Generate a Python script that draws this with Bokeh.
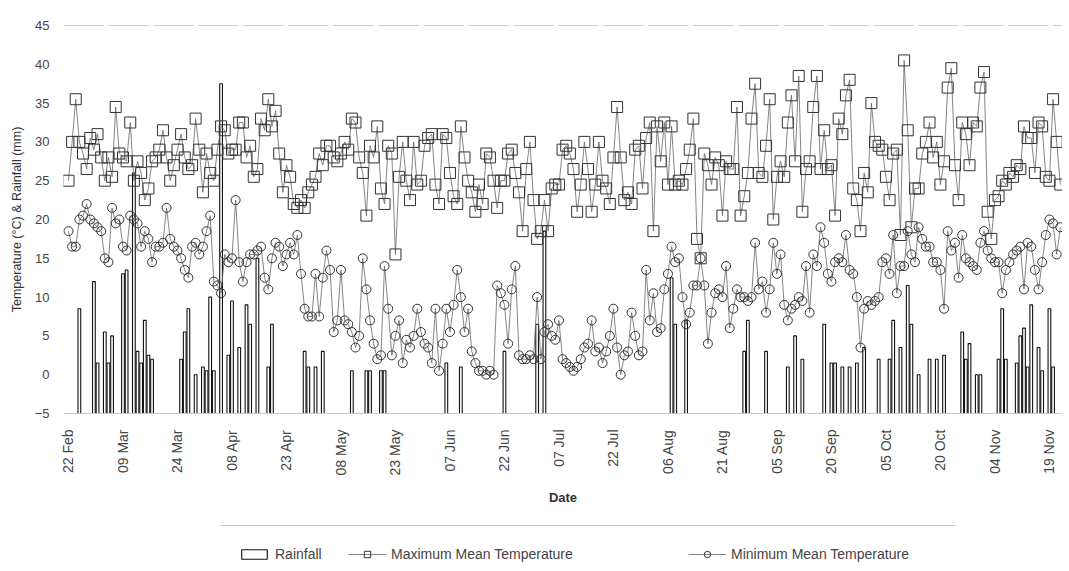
import numpy as np
import pandas as pd
from bokeh.plotting import figure
from bokeh.layouts import column
from bokeh.models import (ColumnDataSource, Range1d, FixedTicker, DatetimeTickFormatter,
                          Legend, LegendItem, Span, BoxAnnotation)
from bokeh.embed import file_html
from bokeh.resources import INLINE

# ---------------- data ----------------
start_date = "2019-02-22"
tick_labels = ["22 Feb", "09 Mar", "24 Mar", "08 Apr", "23 Apr", "08 May", "23 May",
               "07 Jun", "22 Jun", "07 Jul", "22 Jul", "06 Aug", "21 Aug", "05 Sep",
               "20 Sep", "05 Oct", "20 Oct", "04 Nov", "19 Nov"]
y_ticks = [-5, 0, 5, 10, 15, 20, 25, 30, 35, 40, 45]
series_names = ["Rainfall", "Maximum Mean Temperature", "Minimum Mean Temperature"]

max_temp = [
    25, 30, 35.5, 30, 28.5, 26.5, 30.5, 29, 31, 28,
    25, 28, 25.5, 34.5, 28.5, 28, 27.5, 32.5, 25, 27.5,
    26, 22.5, 24, 27.5, 28, 29, 31.5, 28, 25, 27,
    29, 31, 28, 26.5, 27, 33, 29, 23.5, 28.5, 26,
    25, 29, 32, 31.5, 28.5, 29, 29, 32.5, 32.5, 28,
    29.5, 25.5, 26.5, 33, 31.5, 35.5, 32, 34, 28.5, 23.5,
    27, 25.5, 22, 21.5, 22.5, 21.5, 23.5, 24.5, 25.5, 28.5,
    27, 29.5, 29.5, 28, 27.5, 28.5, 30, 29, 33, 32.5,
    28, 26, 20.5, 29.5, 28, 32, 24, 22, 29.5, 28.5,
    15.5, 25.5, 30, 25, 22.5, 30, 24.5, 25, 29.5, 30.5,
    31, 24.5, 22, 31, 30.5, 26, 23, 22, 32, 28,
    25, 23.5, 21, 24.5, 22, 28.5, 28, 25, 21.5, 25,
    25, 28.5, 29, 26, 23.5, 18.5, 26.5, 30, 22.5, 17.5,
    18.5, 22.5, 18.5, 24, 24.5, 24.5, 29, 29.5, 28.5, 26.5,
    21, 24.5, 30, 26.5, 21, 24.5, 30, 25, 24, 22,
    28, 34.5, 28, 22.5, 23.5, 22, 29, 29.5, 24, 30.5,
    32.5, 18.5, 32, 27.5, 32.5, 24.5, 32, 24.5, 25, 24.5,
    26.5, 29, 33, 17.5, 15, 28.5, 27, 24.5, 28, 27,
    20.5, 27.5, 26.5, 26.5, 34.5, 20.5, 23, 26, 33, 37.5,
    26, 25.5, 29.5, 35.5, 20, 25.5, 27.5, 25.5, 32.5, 36,
    27.5, 38.5, 21, 26.5, 27.5, 34.5, 38.5, 26.5, 31.5, 26.5,
    27, 20.5, 33, 31, 36, 38, 24, 22.5, 18.5, 26,
    23.5, 35, 30, 29.5, 29, 25.5, 22.5, 28.5, 29, 18,
    40.5, 31.5, 19, 24, 24, 28.5, 30, 32.5, 28, 30,
    24.5, 27.5, 37, 39.5, 27, 22.5, 32.5, 31, 27, 32.5,
    32, 37, 39, 21, 17.5, 22.5, 23, 25, 24.5, 26,
    25.5, 27, 26.5, 32, 30.5, 30.5, 26, 32.5, 32, 25.5,
    25, 35.5, 30, 24.5,
]

min_temp = [
    18.5, 16.5, 16.5, 20, 20.5, 22, 20, 19.5, 19, 18.5,
    15, 14.5, 21.5, 19.5, 20, 16.5, 16, 20.5, 20, 19.5,
    16.5, 18.5, 17.5, 14.5, 16.5, 16.5, 17, 21.5, 17.5, 16.5,
    16, 15, 13.5, 12.5, 16.5, 17, 15.5, 16.5, 18.5, 20.5,
    12, 11.5, 10.5, 15.5, 14.5, 15, 22.5, 14.5, 12, 14.5,
    15.5, 15.5, 16, 16.5, 12.5, 11, 15, 17, 16.5, 14,
    15.5, 17, 15.5, 18, 13, 8.5, 7.5, 7.5, 13, 7.5,
    12.5, 16, 13.5, 5.5, 7, 13.5, 7, 6.5, 5.5, 3.5,
    5, 15, 11, 7, 4, 2, 2.5, 14, 8.5, 2.5,
    5, 7, 1.5, 4.5, 3.5, 5, 8.5, 5.5, 4, 3.5,
    1.5, 8.5, 0.5, 4, 8.5, 5.5, 9, 13.5, 10, 5.5,
    8.5, 3, 1.5, 0.5, 0.5, 0, 0.5, 0, 11.5, 10.5,
    9, 4, 11, 14, 2.5, 2, 2, 2.5, 2, 10,
    2, 5.5, 6.5, 5, 4.5, 7, 2, 1.5, 1, 0.5,
    1, 2, 3.5, 4, 7, 3, 3.5, 1.5, 3, 5,
    8.5, 3.5, 0, 2.5, 3, 8, 5, 2.5, 3, 13.5,
    7, 10.5, 5.5, 6, 11, 13, 16.5, 14.5, 15, 10,
    6.5, 8, 11.5, 11.5, 15, 11.5, 4, 8, 10.5, 11,
    10, 14, 6, 8.5, 11, 10, 10, 9.5, 10, 17,
    11, 12, 8, 11, 17, 13, 15.5, 9, 7, 8.5,
    9, 10, 9.5, 14, 8, 15.5, 14, 19, 17, 13,
    12, 14.5, 15, 14.5, 18, 13.5, 13, 10, 3.5, 8.5,
    9.5, 9, 9.5, 10, 14.5, 15, 13, 18, 10.5, 14,
    14, 18.5, 15.5, 14.5, 19, 17.5, 16.5, 16.5, 14.5, 14.5,
    13.5, 8.5, 18.5, 16, 17, 12.5, 18, 15, 14.5, 14,
    13.5, 17, 18.5, 16, 15, 14.5, 14.5, 10.5, 13.5, 14.5,
    15.5, 16, 16.5, 11, 17, 16.5, 13.5, 11, 14.5, 18,
    20, 19.5, 15.5, 19,
]

# daily rainfall (mm); columns rise from the axis floor at -5
rainfall = [
    0, 0, 0, 13.5, 0, 0, 0, 17, 6.5, 0,
    10.5, 6.5, 10, 0, 0, 18, 18.5, 0, 31, 8,
    6.5, 12, 7.5, 7, 0, 0, 0, 0, 0, 0,
    0, 7, 10.5, 13.5, 0, 5, 0, 6, 5.5, 15,
    5.5, 0, 42.5, 0, 7.5, 14.5, 0, 8.5, 0, 14,
    11.5, 0, 20, 0, 0, 6, 11.5, 0, 0, 0,
    0, 0, 0, 0, 0, 8, 6, 0, 6, 0,
    8, 0, 0, 0, 0, 0, 0, 0, 5.5, 0,
    0, 0, 5.5, 5.5, 0, 0, 5.5, 5.5, 0, 0,
    0, 0, 0, 0, 0, 0, 0, 0, 0, 0,
    0, 0, 0, 0, 6.5, 0, 0, 0, 6, 0,
    0, 0, 0, 0, 0, 0, 0, 0, 0, 0,
    8, 0, 0, 0, 0, 0, 0, 0, 0, 11.5,
    0, 23.5, 0, 0, 0, 0, 0, 0, 0, 0,
    0, 0, 0, 0, 0, 0, 0, 0, 0, 0,
    0, 0, 0, 0, 0, 0, 0, 0, 0, 0,
    0, 0, 0, 0, 0, 0, 17.5, 11.5, 0, 0,
    12, 0, 0, 0, 0, 0, 0, 0, 0, 0,
    0, 0, 0, 0, 0, 0, 8, 12, 0, 0,
    0, 0, 8, 0, 0, 0, 0, 0, 6, 0,
    10, 0, 7, 0, 0, 0, 0, 0, 11.5, 0,
    6.5, 6.5, 0, 6, 0, 6, 0, 6.5, 0, 8.5,
    0, 0, 0, 7, 0, 0, 7, 12, 0, 8.5,
    0, 16.5, 11.5, 0, 5, 0, 0, 7, 0, 7,
    0, 7.5, 0, 0, 0, 0, 10.5, 7, 9, 0,
    5, 5, 0, 0, 0, 0, 7, 13.5, 7, 0,
    0, 6.5, 10, 11, 6, 14, 0, 8.5, 5.5, 0,
    13.5, 6, 0, 0,
]
axis_floor = -5

# ---------------- styles ----------------
FONT = "Liberation Sans"
BAR = dict(fill_color="white", line_color="#111111", line_width=1.1)
LINE = dict(line_color="#666666", line_width=0.8)
SQ = dict(marker="square", size=11, fill_alpha=0, line_color="#333333", line_width=1)
CI = dict(marker="circle", size=9, fill_alpha=0, line_color="#333333", line_width=1)

# ---------------- main chart ----------------
n = len(max_temp)
dates = pd.date_range(start_date, periods=n, freq="D")
src = ColumnDataSource(dict(date=dates, tmax=max_temp, tmin=min_temp[:n]))

rain_mask = [r > 0 for r in rainfall[:n]]
rain_src = ColumnDataSource(dict(
    date=[d for d, m in zip(dates, rain_mask) if m],
    top=[axis_floor + r for r, m in zip(rainfall[:n], rain_mask) if m],
))

day = pd.Timedelta(days=1)
x_start = (dates[0] - 1.37 * day).to_pydatetime()
x_end = (dates[0] + 273.6 * day).to_pydatetime()

p = figure(width=1062, height=508, x_axis_type="datetime",
           x_range=Range1d(x_start, x_end), y_range=Range1d(-5, 45),
           output_backend="svg", toolbar_location=None,
           min_border_left=63, min_border_right=0, min_border_top=25, min_border_bottom=95)

p.outline_line_color = None
p.xgrid.grid_line_color = None
p.ygrid.grid_line_color = None

# y axis
p.yaxis.ticker = FixedTicker(ticks=y_ticks)
p.yaxis.axis_line_color = None
p.yaxis.major_tick_line_color = None
p.yaxis.minor_tick_line_color = None
p.yaxis.major_label_standoff = 8
p.yaxis.major_label_text_font = FONT
p.yaxis.major_label_text_font_size = "13px"
p.yaxis.major_label_text_color = "#444444"
p.yaxis.axis_label = "Temperature (\u00b0C) & Rainfall (mm)"
p.yaxis.axis_label_text_font = FONT
p.yaxis.axis_label_text_font_size = "12.5px"
p.yaxis.axis_label_text_font_style = "normal"
p.yaxis.axis_label_text_color = "#333333"
p.yaxis.axis_label_standoff = 8

# x axis
tick_dates = pd.to_datetime([f"{t} 2019" for t in tick_labels], format="%d %b %Y")
p.xaxis.ticker = FixedTicker(ticks=[t.timestamp() * 1000 for t in tick_dates])
p.xaxis.formatter = DatetimeTickFormatter(days="%d %b", months="%d %b", years="%d %b",
                                          hours="%d %b", hourmin="%d %b")
p.xaxis.major_label_orientation = np.pi / 2
p.xaxis.major_label_standoff = 10
p.xaxis.major_label_text_font = FONT
p.xaxis.major_label_text_font_size = "14px"
p.xaxis.major_label_text_color = "#444444"
p.xaxis.axis_line_color = "#c8c8c8"
p.xaxis.major_tick_line_color = None
p.xaxis.minor_tick_line_color = None
p.xaxis.axis_label = "Date"
p.xaxis.axis_label_text_font = FONT
p.xaxis.axis_label_text_font_size = "13px"
p.xaxis.axis_label_text_font_style = "bold"
p.xaxis.axis_label_text_color = "#333333"
p.xaxis.axis_label_standoff = 12

# top border line at 45
p.add_layout(Span(location=45, dimension="width", line_color="#9a9a9a",
                  line_width=1, line_dash="40 5"))

p.vbar(x="date", top="top", bottom=axis_floor, width=0.75 * 86400000,
       source=rain_src, **BAR)
p.line("date", "tmax", source=src, **LINE)
p.line("date", "tmin", source=src, **LINE)
p.scatter("date", "tmax", source=src, **SQ)
p.scatter("date", "tmin", source=src, **CI)

# ---------------- legend strip ----------------
lg = figure(width=1062, height=55, x_range=Range1d(0, 1), y_range=Range1d(0, 1),
            output_backend="svg", toolbar_location=None,
            x_axis_location=None, y_axis_location=None,
            min_border_left=63, min_border_right=0, min_border_top=0, min_border_bottom=0)
lg.outline_line_color = None
lg.xgrid.grid_line_color = None
lg.ygrid.grid_line_color = None

# faint top rule of the legend box
lg.add_layout(BoxAnnotation(left=0.157, right=0.893, top=0.70, bottom=0.682,
                            fill_color="#c4c4c4", fill_alpha=1, line_color=None))

# legend proxies: one not-a-number row so the legend draws their swatches
proxy = ColumnDataSource(dict(x=[np.nan], y=[np.nan], top=[np.nan]))
r_bar = lg.vbar(x="x", top="top", bottom=0, width=0.1, source=proxy, **BAR)
r_lmax = lg.line("x", "y", source=proxy, **LINE)
r_smax = lg.scatter("x", "y", source=proxy, **SQ)
r_lmin = lg.line("x", "y", source=proxy, **LINE)
r_smin = lg.scatter("x", "y", source=proxy, **CI)


def add_legend(label, renderers, x, gw, gh):
    leg = Legend(items=[LegendItem(label=label, renderers=renderers)],
                 location=(x, 1), orientation="horizontal",
                 border_line_color=None, background_fill_alpha=0,
                 label_text_font=FONT, label_text_font_size="14px",
                 label_text_color="#444444", glyph_width=gw, glyph_height=gh,
                 label_standoff=5, padding=2, margin=0, spacing=0)
    lg.add_layout(leg, "center")


add_legend(series_names[0], [r_bar], 175, 32, 12)
add_legend(series_names[1], [r_lmax, r_smax], 285, 38, 16)
add_legend(series_names[2], [r_lmin, r_smin], 625, 38, 16)

layout = column(p, lg, spacing=0)
open("out.html", "w").write(file_html(layout, INLINE))
